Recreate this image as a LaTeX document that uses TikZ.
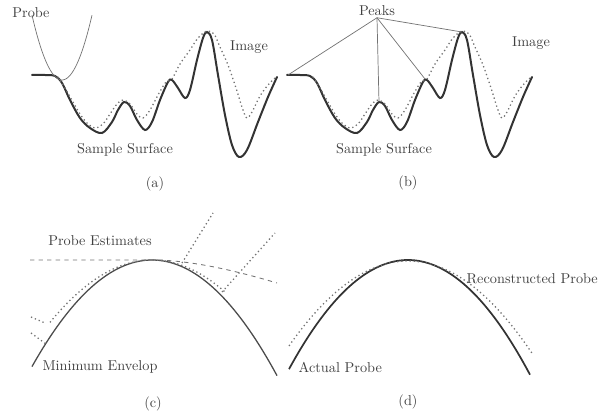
\documentclass[tikz,border=0pt]{standalone}
\usepackage{amsmath}

\begin{document}
\begin{tikzpicture}[x=0.7pt,y=-0.7pt,font=\normalsize,
surf/.style={black!80,line width=1.4pt,line cap=round},
img/.style={black!55,dotted,line width=0.9pt},
thinln/.style={black!55,line width=0.5pt},
lbl/.style={black!75,inner sep=1pt}]
\useasboundingbox (0,0) rectangle (601,415);
% (a) and (b): the same sample surface and its image, (b) shifted right
\foreach \dx in {0,255} {
\begin{scope}[shift={(\dx,0)}]
\draw[surf] plot[smooth,tension=0.55] coordinates {(32,75) (45,75) (55,76) (62,83)
(70,100) (80,118) (90,128) (102,133) (112,122) (118,110) (124,102) (130,106)
(137,120) (145,130) (152,122) (160,100) (168,82) (172,80) (178,88) (185,98)
(190,90) (197,60) (203,38) (207,32) (212,40) (218,75) (225,115) (232,145)
(239,157) (247,150) (258,122) (268,97) (277,77)};
\draw[img] plot[smooth,tension=0.55] coordinates {(58,77) (65,88) (73,102)
(80,114) (87,123) (95,128) (103,124) (110,114) (117,104) (123,100) (130,104)
(137,114) (143,118) (150,110) (158,95) (166,82) (172,79) (180,64) (190,50)
(198,38) (207,31) (214,34) (220,47) (228,65) (236,88) (243,110) (247,118)
(252,112) (260,96) (268,85) (275,78)};
\end{scope}
}
% probe in (a)
\draw[thinln] plot[domain=32:92,samples=40] (\x,{80-0.072*(\x-62)^2});
\node[lbl] (probelbl) at (31,13) {Probe};
\node[lbl] (imgA) at (249,47) {Image};
\node[lbl] (surfA) at (125,150) {Sample Surface};
\node[lbl] (capA) at (155,184) {(a)};
% peaks in (b)
\node[lbl] (peaks) at (377,11) {Peaks};
\coordinate (pk1) at (288,75);
\coordinate (pk2) at (379,102);
\coordinate (pk3) at (425,79);
\coordinate (pk4) at (462,32);
\foreach \p in {pk1,pk2,pk3,pk4} \draw[thinln] (peaks.south) -- (\p);
\node[lbl] (imgB) at (531,43) {Image};
\node[lbl] (surfB) at (384,150) {Sample Surface};
\node[lbl] (capB) at (408,183) {(b)};
% (c) probe estimates and minimum envelope
\draw[black!70,line width=0.9pt] plot[domain=32:277,samples=70] (\x,{260+0.0074*(\x-152)^2});
\draw[img] plot[domain=50:225,samples=50] (\x,{260+0.006*(\x-152)^2});
\draw[black!55,dashed,line width=0.6pt] (30,260) -- (160,260)
.. controls (200,262) and (240,272) .. (277,283);
\draw[img] (182,263) -- (213,213);
\draw[img] (222,292) -- (275,233);
\draw[img] (31,317) -- (45,323);
\draw[img] (31,333) -- (46,344);
\node[lbl] (estim) at (100,241) {Probe Estimates};
\node[lbl] (envel) at (100,367) {Minimum Envelop};
\node[lbl] (capC) at (153,404) {(c)};
% (d) actual and reconstructed probe
\draw[black!80,line width=1.2pt] plot[domain=289:530,samples=70] (\x,{260+0.0077*(\x-408)^2});
\draw[img] plot[domain=289:532,samples=60] (\x,{261+0.006*(\x-408)^2});
\node[lbl,anchor=west] (recon) at (465,279) {Reconstructed Probe};
\node[lbl,anchor=west] (actual) at (297,367) {Actual Probe};
\node[lbl] (capD) at (408,402) {(d)};
\end{tikzpicture}
\end{document}
